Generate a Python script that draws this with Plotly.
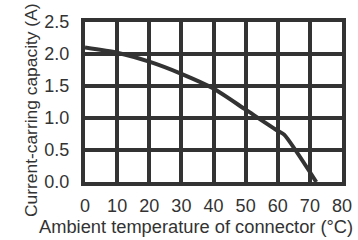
import plotly.graph_objects as go

temps = [0, 10, 20, 30, 40, 50, 60, 62, 72]
capacity = [2.1, 2.02, 1.88, 1.69, 1.46, 1.13, 0.8, 0.74, 0.0]
x_ticks = [0, 10, 20, 30, 40, 50, 60, 70, 80]
y_ticks = [0.0, 0.5, 1.0, 1.5, 2.0, 2.5]
x_title = "Ambient temperature of connector (°C)"
y_title = "Current-carring capacity (A)"

dark = "#333333"
fam = "Liberation Sans, Arial, sans-serif"
fig = go.Figure()
fig.add_trace(go.Scatter(x=temps, y=capacity, mode="lines",
                         line=dict(color=dark, width=4, shape="spline", smoothing=0.6),
                         showlegend=False, hoverinfo="skip"))
fig.update_layout(
    width=358, height=240,
    margin=dict(l=85, r=16, t=22, b=58),
    paper_bgcolor="white", plot_bgcolor="white",
    font=dict(family=fam, size=18, color=dark),
)
fig.update_xaxes(range=[0, 80], tickvals=x_ticks, ticktext=[str(v) for v in x_ticks],
                 showgrid=True, gridcolor=dark, gridwidth=4, zeroline=False,
                 showline=True, linecolor=dark, linewidth=4, mirror=True,
                 ticks="", ticklabelstandoff=4, automargin=False)
fig.update_yaxes(range=[0, 2.5], tickvals=y_ticks, ticktext=[f"{v:.1f}" for v in y_ticks],
                 showgrid=True, gridcolor=dark, gridwidth=4, zeroline=False,
                 showline=True, linecolor=dark, linewidth=4, mirror=True,
                 ticks="", ticklabelstandoff=8, automargin=False)
fig.add_annotation(text=x_title, xref="paper", yref="paper", x=1.05, y=-0.2,
                   xanchor="right", yanchor="top", showarrow=False, font=dict(size=18.3))
fig.add_annotation(text=y_title, xref="paper", yref="paper", x=-0.21, y=0.45,
                   xanchor="center", yanchor="middle", textangle=-90,
                   showarrow=False, font=dict(size=17.4))
fig.write_html("out.html", config={"displayModeBar": False},
               post_script="document.body.style.margin='0';")
